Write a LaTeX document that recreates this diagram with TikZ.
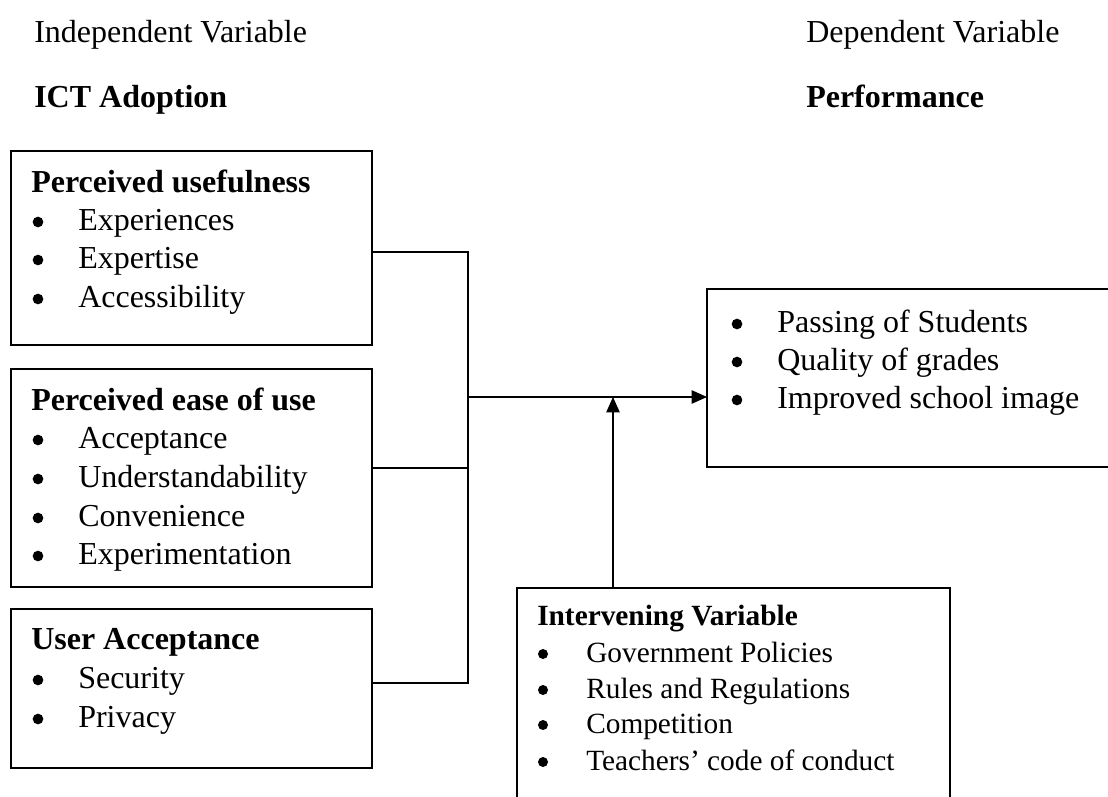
\documentclass[tikz,border=0pt]{standalone}
\usepackage{fontspec}
\setmainfont{Liberation Serif}
\usetikzlibrary{arrows.meta}
\begin{document}
\begin{tikzpicture}[x=0.75pt,y=-0.75pt,
  box/.style={draw,line width=1.1pt,inner sep=0pt,outer sep=0pt},
  lt/.style={anchor=base west,inner sep=0pt,font=\fontsize{24}{28}\selectfont},
  st/.style={anchor=base west,inner sep=0pt,font=\fontsize{22}{26}\selectfont},
  dot/.style={circle,fill,inner sep=0pt,minimum size=8pt},
  sdot/.style={circle,fill,inner sep=0pt,minimum size=7.5pt},
  conn/.style={line width=1.1pt},
  arr/.style={line width=1.1pt,-{Triangle[length=11.5pt,width=10pt]}}]
\clip (0,0) rectangle (1108,797);
% headers
\node[lt] (h1) at (34,42) {Independent Variable};
\node[lt] (h2) at (34,107) {\bfseries ICT Adoption};
\node[lt] (h3) at (806,42) {Dependent Variable};
\node[lt] (h4) at (806,107) {\bfseries Performance};
% boxes
\node[box,minimum width=270.75pt,minimum height=145.5pt] (b1) at (191.5,248) {};
\node[box,minimum width=270.75pt,minimum height=163.5pt] (b2) at (191.5,478) {};
\node[box,minimum width=270.75pt,minimum height=119.25pt] (b3) at (191.5,688.5) {};
\node[box,minimum width=309.75pt,minimum height=133.5pt] (out) at (913.5,378) {};
\node[box,minimum width=324.75pt,minimum height=174pt] (iv) at (733.5,704) {};
% box 1
\node[lt] (t1) at (31,192) {\bfseries Perceived usefulness};
\node[dot] (d1a) at (38,222) {}; \node[lt] (t1a) at (78,230) {Experiences};
\node[dot] (d1b) at (38,260) {}; \node[lt] (t1b) at (78,268) {Expertise};
\node[dot] (d1c) at (38,299) {}; \node[lt] (t1c) at (78,307) {Accessibility};
% box 2
\node[lt] (t2) at (31,410) {\bfseries Perceived ease of use};
\node[dot] (d2a) at (38,440) {}; \node[lt] (t2a) at (78,448) {Acceptance};
\node[dot] (d2b) at (38,479) {}; \node[lt] (t2b) at (78,487) {Understandability};
\node[dot] (d2c) at (38,518) {}; \node[lt] (t2c) at (78,526) {Convenience};
\node[dot] (d2d) at (38,556) {}; \node[lt] (t2d) at (78,564) {Experimentation};
% box 3
\node[lt] (t3) at (31,649) {\bfseries User Acceptance};
\node[dot] (d3a) at (38,680) {}; \node[lt] (t3a) at (78,688) {Security};
\node[dot] (d3b) at (38,719) {}; \node[lt] (t3b) at (78,727) {Privacy};
% output box
\node[dot] (d4a) at (737,324) {}; \node[lt] (t4a) at (777,332) {Passing of Students};
\node[dot] (d4b) at (737,362) {}; \node[lt] (t4b) at (777,370) {Quality of grades};
\node[dot] (d4c) at (737,400) {}; \node[lt] (t4c) at (777,408) {Improved school image};
% intervening
\node[st] (t5) at (537,625) {\bfseries Intervening Variable};
\node[sdot] (d5a) at (543,654) {}; \node[st] (t5a) at (586,662) {Government Policies};
\node[sdot] (d5b) at (543,690) {}; \node[st] (t5b) at (586,698) {Rules and Regulations};
\node[sdot] (d5c) at (543,725) {}; \node[st] (t5c) at (586,733) {Competition};
\node[sdot] (d5d) at (543,762) {}; \node[st] (t5d) at (586,770) {Teachers’ code of conduct};
% connectors
\coordinate (jt) at (468,252);
\coordinate (jm) at (468,397);
\coordinate (j2) at (468,468);
\coordinate (jb) at (468,683);
\coordinate (ia) at (613,397);
\draw[conn] (b1.east |- jt) -- (jt) -- (jb) -- (b3.east |- jb);
\draw[conn] (b2.east |- j2) -- (j2);
\draw[arr] (jm) -- (out.west |- jm);
\draw[arr] (iv.north -| ia) -- (ia);
\end{tikzpicture}
\end{document}
